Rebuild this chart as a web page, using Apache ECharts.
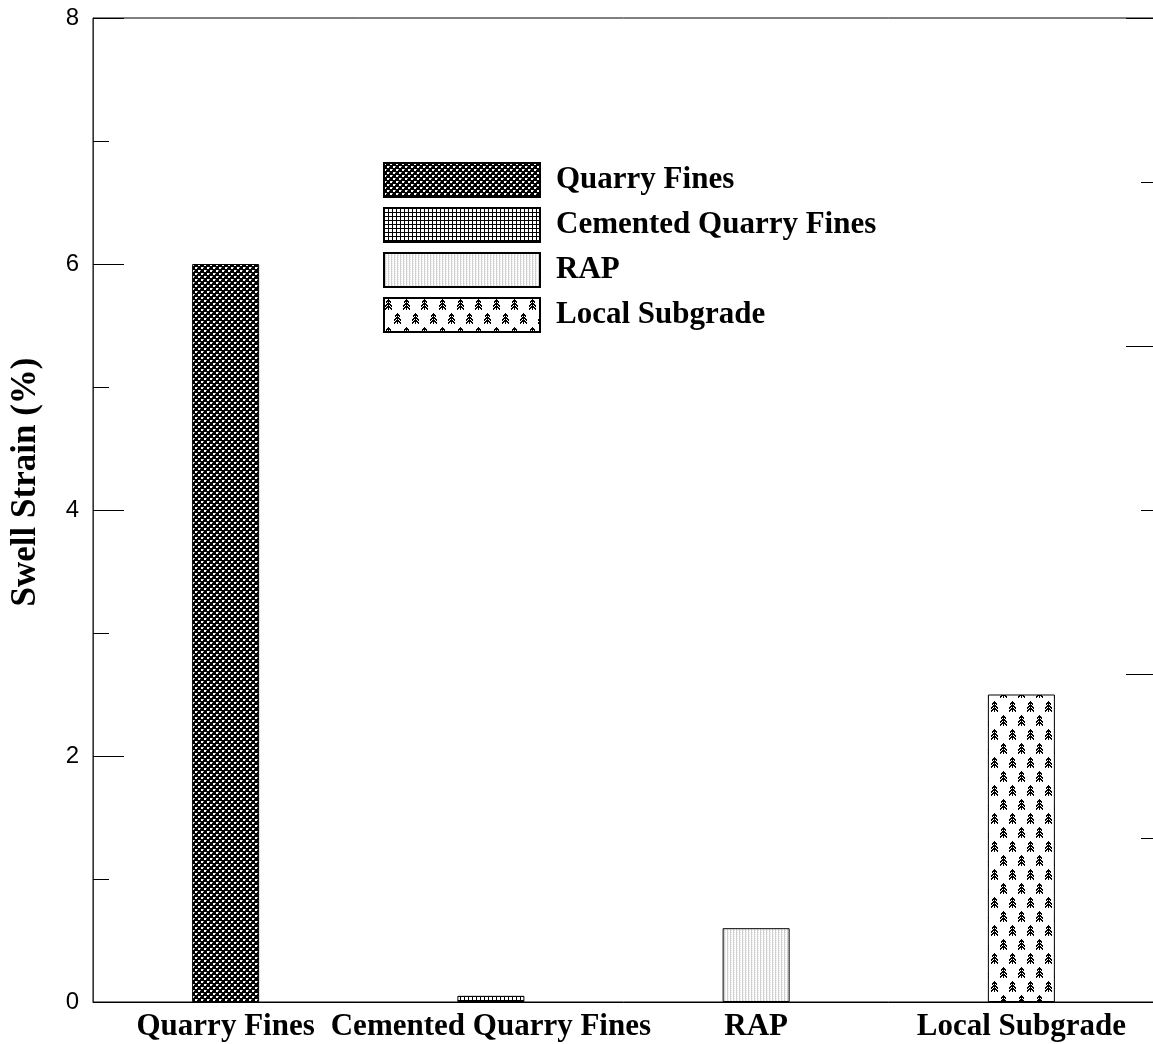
<!DOCTYPE html>
<html>
<head>
<meta charset="utf-8">
<script src="https://cdn.jsdelivr.net/npm/echarts@6/dist/echarts.min.js"></script>
<style>html,body{margin:0;padding:0;background:#fff;}#c{width:1153px;height:1044px;}</style>
</head>
<body>
<div id="c"></div>
<script>
const categories = ['Quarry Fines', 'Cemented Quarry Fines', 'RAP', 'Local Subgrade'];
const swellStrain = [6.0, 0.05, 0.6, 2.5];
const leftTicks = [0, 2, 4, 6, 8];
const yAxisName = 'Swell Strain (%)';

function makeTile(w, h, draw) {
  const c = document.createElement('canvas');
  c.width = w; c.height = h;
  const g = c.getContext('2d');
  g.fillStyle = '#fff'; g.fillRect(0, 0, w, h);
  draw(g);
  return c;
}
// Quarry fines: dense diagonal crosshatch (white dots on black)
const pQF = makeTile(6, 6, g => {
  g.fillStyle = '#000'; g.fillRect(0, 0, 6, 6);
  g.fillStyle = '#fff';
  g.fillRect(0, 0, 2, 2); g.fillRect(3, 3, 2, 2);
  g.fillStyle = '#999';
  g.fillRect(2, 0, 1, 1); g.fillRect(5, 3, 1, 1);
});
// Cemented: square grid
const pCQF = makeTile(4, 4, g => {
  g.fillStyle = '#000';
  g.fillRect(0, 0, 1, 4); g.fillRect(0, 0, 4, 1);
});
// RAP: light vertical stripes
const pRAP = makeTile(3, 2, g => {
  g.fillStyle = '#d0d0d0'; g.fillRect(1, 0, 1, 2);
  g.fillStyle = '#e6e6e6'; g.fillRect(2, 0, 1, 1);
});
// Local subgrade: staggered trees
function tree(g, cx, ty) {
  g.fillStyle = '#000';
  g.fillRect(cx, ty, 1, 11);
  for (let L = 0; L < 3; L++) {
    const y0 = ty + L * 3;
    const n = L === 0 ? 2 : 3;
    for (let k = 1; k <= n; k++) {
      g.fillRect(cx - k, y0 + k, 1, 2);
      g.fillRect(cx + k, y0 + k, 1, 2);
    }
  }
  g.fillRect(cx - 1, ty + 1, 3, 1);
}
const pLS = makeTile(18, 28, g => {
  tree(g, 4, 1);
  tree(g, 13, 15);
});
const patterns = [pQF, pCQF, pRAP, pLS];

const series = categories.map((name, i) => ({
  name: name,
  type: 'bar',
  stack: 'all',
  barWidth: 67,
  data: categories.map((c, j) => (j === i ? swellStrain[i] : '-')),
  itemStyle: {
    color: { image: patterns[i], repeat: 'repeat' },
    borderColor: '#000',
    borderWidth: 1
  },
  emphasis: { disabled: true },
  silent: true
}));

const chart = echarts.init(document.getElementById('c'));
chart.setOption({
  animation: false,
  backgroundColor: '#fff',
  grid: { left: 93, right: -1, top: 18, bottom: 42, containLabel: false, outerBoundsMode: 'none',
    show: true, borderColor: '#000', borderWidth: 1, backgroundColor: 'transparent' },
  legend: {
    orient: 'vertical',
    left: 383, top: 162, padding: 0,
    itemWidth: 156, itemHeight: 34, itemGap: 9,
    icon: 'rect',
    selectedMode: false,
    textStyle: { fontFamily: 'Liberation Serif', fontWeight: 'bold', fontSize: 31, lineHeight: 34, color: '#000', padding: [0, 0, 0, 11] },
    data: categories
  },
  xAxis: {
    type: 'category',
    data: categories,
    axisLine: { lineStyle: { color: '#000', width: 1 } },
    axisTick: { show: false },
    axisLabel: { fontFamily: 'Liberation Serif', fontWeight: 'bold', fontSize: 31, color: '#000', margin: 9, interval: 0 },
    splitLine: { show: false }
  },
  yAxis: [{
    type: 'value',
    min: 0, max: 8, interval: 2,
    name: yAxisName,
    nameLocation: 'middle',
    nameGap: 50,
    nameTextStyle: { fontFamily: 'Liberation Serif', fontWeight: 'bold', fontSize: 35, color: '#000', padding: [0, 0, 0, 56] },
    axisLine: { show: true, lineStyle: { color: '#333', width: 1 } },
    axisTick: { show: true, inside: true, length: 31, lineStyle: { color: '#000' } },
    minorTick: { show: true, splitNumber: 2, length: 16, lineStyle: { color: '#000' } },
    axisLabel: { inside: false, margin: 14, fontFamily: 'Liberation Sans', fontSize: 24, color: '#000',
      formatter: v => (leftTicks.indexOf(v) >= 0 ? String(v) : '') },
    splitLine: { show: false }
  }, {
    type: 'value',
    position: 'right',
    min: 0, max: 6, interval: 2,
    axisLine: { show: false },
    axisTick: { show: true, inside: true, length: 28, lineStyle: { color: '#000' } },
    minorTick: { show: true, splitNumber: 2, length: 13, lineStyle: { color: '#000' } },
    axisLabel: { show: false },
    splitLine: { show: false }
  }],
  series: series
});
</script>
</body>
</html>
